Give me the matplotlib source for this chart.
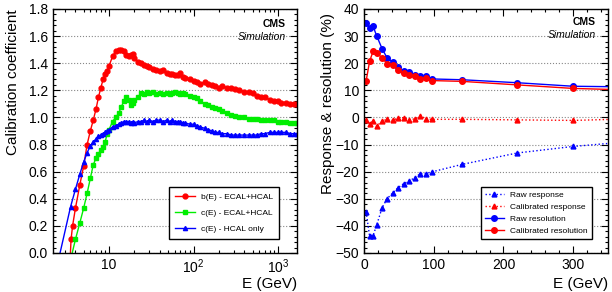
import matplotlib
matplotlib.use("Agg")
import matplotlib.pyplot as plt
import numpy as np
from matplotlib.ticker import MultipleLocator, FixedLocator, FixedFormatter, LogLocator, NullFormatter

plt.rcParams['font.family'] = ['Liberation Sans', 'DejaVu Sans']
plt.rcParams['mathtext.default'] = 'regular'

# ---- left panel: calibration coefficients vs E (GeV)
E_common = [4.0, 4.5, 5.0, 5.5, 6.0, 6.5, 7.0, 7.5, 8.0, 8.5, 9.0, 9.5, 10, 11, 12, 13, 14, 15,
            16, 17, 18, 19, 20, 22, 24, 26, 28, 30, 33, 36, 40, 44, 48, 52, 56, 60, 65, 70,
            75, 80, 90, 100, 110, 120, 135, 150, 165, 180, 200, 220, 250, 280, 310, 350,
            400, 450, 500, 560, 630, 700, 800, 900, 1000, 1100, 1250, 1400, 1550, 1700]

b_low_E = [3.4, 3.55, 3.7]
b_low = [-0.15, 0.10, 0.20]
b_ecal_hcal = [0.33, 0.50, 0.64, 0.80, 0.90, 0.98, 1.06, 1.15, 1.22, 1.28, 1.32, 1.34, 1.38,
               1.45, 1.49, 1.50, 1.50, 1.49, 1.46, 1.45, 1.46, 1.47, 1.44, 1.41, 1.40, 1.39,
               1.38, 1.37, 1.36, 1.35, 1.34, 1.35, 1.33, 1.32, 1.32, 1.31, 1.31, 1.33, 1.30,
               1.29, 1.28, 1.27, 1.26, 1.25, 1.26, 1.25, 1.24, 1.23, 1.22, 1.23, 1.22, 1.22,
               1.21, 1.20, 1.19, 1.19, 1.18, 1.16, 1.15, 1.15, 1.13, 1.12, 1.12, 1.11, 1.11,
               1.10, 1.10, 1.10]

c_low_E = [3.6]
c_low = [-0.02]
c_ecal_hcal = [0.10, 0.22, 0.33, 0.44, 0.55, 0.65, 0.70, 0.73, 0.76, 0.78, 0.82, 0.88, 0.91,
               0.97, 1.00, 1.03, 1.08, 1.12, 1.15, 1.13, 1.09, 1.11, 1.13, 1.15, 1.18, 1.17,
               1.19, 1.18, 1.19, 1.17, 1.18, 1.17, 1.18, 1.17, 1.18, 1.19, 1.18, 1.17, 1.18,
               1.17, 1.16, 1.15, 1.14, 1.12, 1.10, 1.09, 1.08, 1.07, 1.06, 1.05, 1.03, 1.02,
               1.01, 1.00, 1.00, 0.99, 0.99, 0.99, 0.98, 0.98, 0.98, 0.98, 0.97, 0.97, 0.97,
               0.96, 0.96, 0.96]

h_low_E = [2.5, 3.5]
h_low = [-0.06, 0.34]
c_hcal_only = [0.47, 0.58, 0.67, 0.74, 0.79, 0.82, 0.84, 0.86, 0.87, 0.88, 0.89, 0.90, 0.91,
               0.93, 0.94, 0.95, 0.96, 0.97, 0.97, 0.97, 0.96, 0.97, 0.96, 0.97, 0.97, 0.98,
               0.97, 0.98, 0.97, 0.98, 0.98, 0.97, 0.98, 0.97, 0.98, 0.97, 0.97, 0.97, 0.96,
               0.96, 0.95, 0.95, 0.94, 0.93, 0.92, 0.91, 0.90, 0.89, 0.89, 0.88, 0.88, 0.87,
               0.87, 0.87, 0.87, 0.87, 0.87, 0.87, 0.88, 0.88, 0.89, 0.89, 0.89, 0.89, 0.89,
               0.88, 0.88, 0.88]

# ---- right panel: response and resolution (%) vs E (GeV)
E_res = [3, 8, 13, 18, 26, 33, 41, 49, 57, 65, 73, 81, 89, 97, 141, 220, 300, 400]
raw_response = [-34.8, -43.8, -43.6, -39.8, -33.3, -30.0, -27.9, -25.9, -24.4, -23.4, -22.2,
                -20.7, -20.7, -20.1, -17.3, -13.1, -10.7, -8.5]
cal_response = [-1.1, -2.3, -1.3, -3.3, -1.3, -0.7, -1.1, -0.2, -0.1, -0.9, -0.5, 0.5, -0.5,
                -0.7, -0.7, -0.9, -1.1, -0.4]
raw_resolution = [34.7, 33.0, 33.6, 30.2, 25.3, 22.0, 20.4, 18.5, 17.1, 16.7, 15.8, 15.1, 15.1,
                  14.2, 13.9, 12.8, 11.5, 11.2]
cal_resolution = [13.4, 20.7, 24.4, 23.8, 22.0, 19.8, 19.4, 17.5, 16.3, 15.5, 15.1, 14.2, 14.6,
                  13.6, 13.3, 12.0, 10.7, 10.0]

RED = "#ff0000"
GREEN = "#00ee00"
BLUE = "#0000ff"


def style_axes(ax):
    ax.tick_params(which="both", direction="in", top=True, right=True, labelsize=10, width=0.8)
    ax.tick_params(which="major", length=5)
    ax.tick_params(which="minor", length=2.5)
    for sp in ax.spines.values():
        sp.set_linewidth(1.0)
    ax.yaxis.grid(True, which="major", linestyle=":", color="#888888", linewidth=0.8)
    ax.set_axisbelow(True)


def cms_label(ax, x, y1, y2):
    ax.text(x, y1, "CMS", transform=ax.transAxes, ha="right", va="center",
            fontsize=7.5, fontweight="bold")
    ax.text(x, y2, "Simulation", transform=ax.transAxes, ha="right", va="center",
            fontsize=7.5, style="italic")


fig = plt.figure(figsize=(6.12, 2.92), dpi=100)
ax1 = fig.add_axes([0.0866, 0.1336, 0.3987, 0.8356])
ax2 = fig.add_axes([0.5948, 0.1336, 0.3987, 0.8356])

# left
ax1.plot(b_low_E + E_common, b_low + b_ecal_hcal, "-o", color=RED, ms=3.5, lw=1,
         label="b(E) - ECAL+HCAL")
ax1.plot(c_low_E + E_common, c_low + c_ecal_hcal, "-s", color=GREEN, ms=3.5, lw=1,
         label="c(E) - ECAL+HCAL")
ax1.plot(h_low_E + E_common, h_low + c_hcal_only, "-^", color=BLUE, ms=3, lw=1,
         label="c(E) - HCAL only")
ax1.set_xscale("log")
ax1.set_xlim(2.17, 1680)
ax1.set_ylim(0, 1.8)
ax1.xaxis.set_major_locator(FixedLocator([10, 100, 1000]))
ax1.xaxis.set_major_formatter(FixedFormatter(["10", "$10^2$", "$10^3$"]))
ax1.xaxis.set_minor_locator(LogLocator(base=10, subs=np.arange(2, 10), numticks=20))
ax1.xaxis.set_minor_formatter(NullFormatter())
ax1.yaxis.set_major_locator(MultipleLocator(0.2))
ax1.yaxis.set_minor_locator(MultipleLocator(0.04))
ax1.yaxis.set_major_formatter(matplotlib.ticker.FormatStrFormatter("%.1f"))
style_axes(ax1)
ax1.set_ylabel("Calibration coefficient", fontsize=11, loc="top")
ax1.yaxis.set_label_coords(-0.135, 1.0)
ax1.set_xlabel("E (GeV)", fontsize=11, ha="right")
ax1.xaxis.set_label_coords(1.0, -0.1)
leg1 = ax1.legend(loc="upper left", bbox_to_anchor=(0.475, 0.27), fontsize=6,
                  frameon=True, fancybox=False, edgecolor="black", framealpha=1,
                  handlelength=2.4, borderpad=0.7, labelspacing=1.0, borderaxespad=0)
leg1.get_frame().set_linewidth(1.0)
cms_label(ax1, 0.955, 0.94, 0.885)

# right
ax2.plot(E_res, raw_response, ":^", color=BLUE, ms=3.5, lw=1, label="Raw response")
ax2.plot(E_res, cal_response, ":^", color=RED, ms=3.5, lw=1, label="Calibrated response")
ax2.plot(E_res, raw_resolution, "-o", color=BLUE, ms=4, lw=1, label="Raw resolution")
ax2.plot(E_res, cal_resolution, "-o", color=RED, ms=4, lw=1, label="Calibrated resolution")
ax2.set_xlim(0, 350)
ax2.set_ylim(-50, 40)
ax2.xaxis.set_major_locator(MultipleLocator(100))
ax2.xaxis.set_minor_locator(MultipleLocator(20))
ax2.yaxis.set_major_locator(MultipleLocator(10))
ax2.yaxis.set_minor_locator(MultipleLocator(2))
style_axes(ax2)
ax2.set_ylabel("Response & resolution (%)", fontsize=11, loc="top")
ax2.yaxis.set_label_coords(-0.12, 0.985)
ax2.set_xlabel("E (GeV)", fontsize=11, ha="right")
ax2.xaxis.set_label_coords(1.0, -0.1)
leg2 = ax2.legend(loc="upper left", bbox_to_anchor=(0.48, 0.27), fontsize=6,
                  frameon=True, fancybox=False, edgecolor="black", framealpha=1,
                  handlelength=2.2, borderpad=0.5, labelspacing=0.5, borderaxespad=0)
leg2.get_frame().set_linewidth(1.0)
cms_label(ax2, 0.95, 0.945, 0.893)

fig.savefig("out.png", dpi=100)
